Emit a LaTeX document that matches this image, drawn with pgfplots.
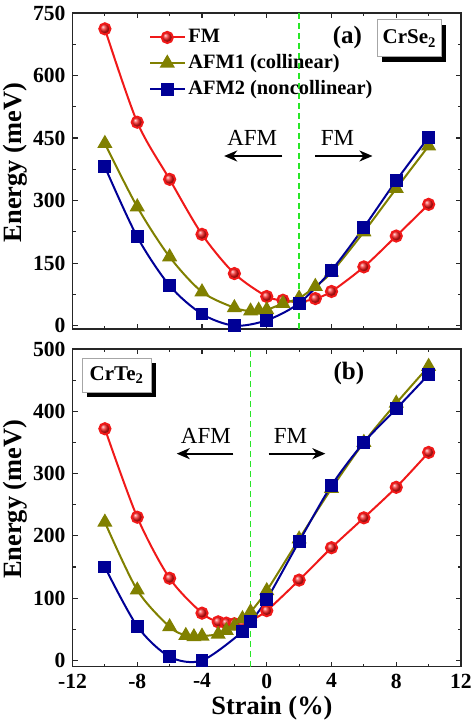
\documentclass[border=0pt]{standalone}
\usepackage{fontspec}
\setmainfont{Liberation Serif}
\usepackage{pgfplots}
\pgfplotsset{compat=1.18}
\usetikzlibrary{shadows,arrows.meta}

\definecolor{fmred}{RGB}{240,25,25}
\definecolor{afmolive}{RGB}{128,128,0}
\definecolor{afmblue}{RGB}{0,0,150}
\definecolor{dgreen}{RGB}{40,230,40}

\tikzset{
  boxstyle/.style={draw=gray!70, fill=white, line width=0.5pt, inner sep=0pt,
    general shadow={fill=black, shadow xshift=2.3pt, shadow yshift=-2.3pt},
    font=\fontsize{10.5}{12}\selectfont\bfseries},
  annot/.style={font=\fontsize{11.5}{13}\selectfont},
  arr/.style={line width=0.95pt, -{Stealth[length=6.5pt,width=5.5pt,inset=2pt]}},
}
\pgfplotsset{
  myaxis/.style={
    scale only axis, width=194.25pt,
    xmin=-12, xmax=12, xtick={-12,-8,...,12}, minor x tick num=1,
    tick align=inside, major tick length=2.5pt, minor tick length=1.5pt,
    axis line style={line width=0.7pt, black!85},
    every tick/.style={line width=0.6pt, black!85},
    tick label style={font=\fontsize{10.8}{12}\selectfont\bfseries},
    /pgf/number format/assume math mode=true,
    label style={font=\fontsize{13.2}{15}\selectfont\bfseries},
    ylabel style={at={(axis description cs:-0.148,0.527)}, anchor=center},
    clip=false,
  },
  fmstyle/.style={color=fmred, line width=1pt, smooth, mark=ball, mark size=2.8pt, mark options={ball color=fmred}},
  af1style/.style={color=afmolive, line width=1pt, smooth, mark=triangle*, mark size=3.4pt, mark options={fill=afmolive}},
  af2style/.style={color=afmblue, line width=1pt, smooth, mark=square*, mark size=2.7pt, mark options={fill=afmblue}},
}

\begin{document}
\begin{tikzpicture}
\path[use as bounding box] (0,0) rectangle (237pt,362.5pt);

% ---------------- top panel (a) CrSe2 ----------------
\begin{axis}[myaxis, at={(36.25pt,198pt)}, anchor=south west, height=158pt,
  ymin=-8, ymax=750, ytick={0,150,...,750}, minor y tick num=1,
  xticklabels={}, ylabel={Energy (meV)},
  legend style={at={(axis description cs:0.181,0.972)}, anchor=north west,
    draw=none, fill=none, font=\fontsize{10.2}{12}\selectfont\bfseries,
    nodes={inner sep=1.5pt}, row sep=1.5pt},
  legend cell align=left]
\addplot[fmstyle] coordinates {
(-10,712) (-8,488) (-6,351) (-4,219) (-2,125) (0,70) (1,61) (2,57) (3,65) (4,82) (6,141) (8,215) (10,291)};
\addlegendentry{FM}
\addplot[af1style] coordinates {
(-10,437) (-8,285) (-6,165) (-4,81) (-2,43) (-1,35) (-0.5,37) (0,38) (1,53) (2,66) (3,94) (4,128) (6,225) (8,329) (10,431)};
\addlegendentry{AFM1 (collinear)}
\addplot[af2style] coordinates {
(-10,381) (-8,213) (-6,96) (-4,28) (-2,0) (0,13) (2,54) (4,133) (6,236) (8,348) (10,452)};
\addlegendentry{AFM2 (noncollinear)}
\addplot[forget plot, dgreen, line width=0.9pt, dash pattern=on 3pt off 2pt] coordinates {(2,-8) (2,750)};
\node[annot] at (axis cs:-0.9,450) {AFM};
\draw[arr] (axis cs:0.96,407) -- (axis cs:-2.63,407);
\node[annot] at (axis cs:4.37,450) {FM};
\draw[arr] (axis cs:3.0,407) -- (axis cs:6.53,407);
\node[font=\fontsize{12.5}{14}\selectfont\bfseries] at (axis cs:4.98,692) {(a)};
\node[boxstyle, minimum width=32pt, minimum height=18.5pt] at (axis cs:8.82,689) {CrSe\textsubscript{2}};
\end{axis}

% ---------------- bottom panel (b) CrTe2 ----------------
\begin{axis}[myaxis, at={(36.25pt,29.15pt)}, anchor=south west, height=158.85pt,
  ymin=-10, ymax=500, ytick={0,100,...,500}, minor y tick num=1,
  xlabel={Strain (\%)}, ylabel={Energy (meV)},
  xlabel style={at={(axis description cs:0.5135,-0.131)}, anchor=center}]
\addplot[fmstyle] coordinates {
(-10,372) (-8,230) (-6,132) (-4,76) (-3,62) (-2.5,60) (-2,59) (-1.5,60) (-1,64) (0,80) (2,129) (4,181) (6,229) (8,278) (10,334)};
\addplot[af1style] coordinates {
(-10,222) (-8,113) (-6,54) (-5,40) (-4.5,38) (-4,39) (-3,42) (-2.5,48) (-2,55) (-1.5,67) (-1,78) (0,112) (2,195) (4,276) (6,350) (8,413) (10,472)};
\addplot[af2style] coordinates {
(-10,150) (-8,55) (-6,6) (-4,0) (-1.5,46) (-1,62) (0,98) (2,191) (4,281) (6,350) (8,404) (10,459)};
\addplot[dgreen, line width=0.9pt, dash pattern=on 3pt off 2pt] coordinates {(-1,-10) (-1,500)};
\node[annot] at (axis cs:-3.76,360) {AFM};
\draw[arr] (axis cs:-2.06,332) -- (axis cs:-5.56,332);
\node[annot] at (axis cs:1.46,360) {FM};
\draw[arr] (axis cs:0.11,332) -- (axis cs:3.62,332);
\node[font=\fontsize{12.5}{14}\selectfont\bfseries] at (axis cs:5.07,460) {(b)};
\node[boxstyle, minimum width=34.5pt, minimum height=17pt] at (axis cs:-9.26,458) {CrTe\textsubscript{2}};
\end{axis}
\end{tikzpicture}
\end{document}
